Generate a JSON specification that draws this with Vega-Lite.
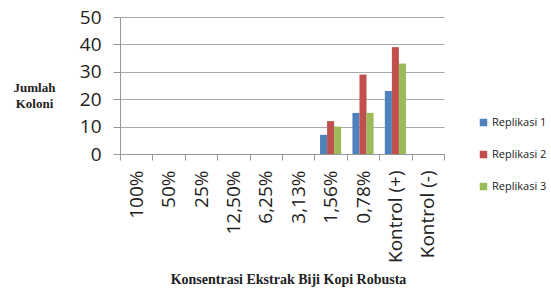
{
  "$schema": "https://vega.github.io/schema/vega-lite/v6.json",
  "autosize": {"type": "none"},
  "padding": {"left": 120, "top": 17, "right": 107, "bottom": 135},
  "width": 324,
  "height": 137,
  "background": "white",
  "data": {
    "values": [
      {"k": "100%", "s": "Replikasi 1", "v": 0}, {"k": "100%", "s": "Replikasi 2", "v": 0}, {"k": "100%", "s": "Replikasi 3", "v": 0},
      {"k": "50%", "s": "Replikasi 1", "v": 0}, {"k": "50%", "s": "Replikasi 2", "v": 0}, {"k": "50%", "s": "Replikasi 3", "v": 0},
      {"k": "25%", "s": "Replikasi 1", "v": 0}, {"k": "25%", "s": "Replikasi 2", "v": 0}, {"k": "25%", "s": "Replikasi 3", "v": 0},
      {"k": "12,50%", "s": "Replikasi 1", "v": 0}, {"k": "12,50%", "s": "Replikasi 2", "v": 0}, {"k": "12,50%", "s": "Replikasi 3", "v": 0},
      {"k": "6,25%", "s": "Replikasi 1", "v": 0}, {"k": "6,25%", "s": "Replikasi 2", "v": 0}, {"k": "6,25%", "s": "Replikasi 3", "v": 0},
      {"k": "3,13%", "s": "Replikasi 1", "v": 0}, {"k": "3,13%", "s": "Replikasi 2", "v": 0}, {"k": "3,13%", "s": "Replikasi 3", "v": 0},
      {"k": "1,56%", "s": "Replikasi 1", "v": 7}, {"k": "1,56%", "s": "Replikasi 2", "v": 12}, {"k": "1,56%", "s": "Replikasi 3", "v": 10},
      {"k": "0,78%", "s": "Replikasi 1", "v": 15}, {"k": "0,78%", "s": "Replikasi 2", "v": 29}, {"k": "0,78%", "s": "Replikasi 3", "v": 15},
      {"k": "Kontrol (+)", "s": "Replikasi 1", "v": 23}, {"k": "Kontrol (+)", "s": "Replikasi 2", "v": 39}, {"k": "Kontrol (+)", "s": "Replikasi 3", "v": 33},
      {"k": "Kontrol (-)", "s": "Replikasi 1", "v": 0}, {"k": "Kontrol (-)", "s": "Replikasi 2", "v": 0}, {"k": "Kontrol (-)", "s": "Replikasi 3", "v": 0}
    ]
  },
  "mark": {"type": "bar"},
  "encoding": {
    "x": {
      "field": "k", "type": "nominal", "sort": null,
      "scale": {"paddingInner": 0, "paddingOuter": 0},
      "axis": {
        "title": "Konsentrasi Ekstrak Biji Kopi Robusta",
        "titleFont": "Liberation Serif", "titleFontSize": 14, "titleFontWeight": "bold", "titleColor": "#222",
        "titleX": 168, "titleAlign": "center", "titlePadding": 10,
        "tickBand": "extent", "tickColor": "#999", "tickSize": 6, "domainColor": "#999",
        "labelAngle": 270, "labelAlign": "right", "labelBaseline": "middle",
        "labelFont": "Open Sans", "labelFontSize": 19, "labelColor": "#222", "labelPadding": 10
      }
    },
    "xOffset": {"field": "s", "type": "nominal", "scale": {"paddingInner": 0, "paddingOuter": 0.8}},
    "y": {
      "field": "v", "type": "quantitative",
      "scale": {"domain": [0, 50]},
      "axis": {
        "values": [0, 10, 20, 30, 40, 50],
        "title": ["Jumlah", "Koloni"],
        "titleFont": "Liberation Serif", "titleFontSize": 13, "titleFontWeight": "bold", "titleColor": "#222",
        "titleAngle": 0, "titleX": -86, "titleY": 70, "titleAlign": "center", "titleBaseline": "middle", "titleLineHeight": 16,
        "labelFont": "Open Sans", "labelFontSize": 19, "labelColor": "#222", "labelPadding": 12,
        "tickColor": "#999", "tickSize": 7, "domainColor": "#999",
        "gridColor": "#aaa"
      }
    },
    "color": {
      "field": "s", "type": "nominal",
      "scale": {"range": ["#4F81BD", "#C0504D", "#9BBB59"]},
      "legend": {
        "title": null, "orient": "none", "legendX": 358, "legendY": 100,
        "symbolType": "square", "symbolSize": 56, "symbolStrokeWidth": 0,
        "labelFont": "Open Sans", "labelFontSize": 11, "labelColor": "#222",
        "rowPadding": 20, "labelOffset": 3
      }
    }
  },
  "config": {"view": {"stroke": null}}
}
